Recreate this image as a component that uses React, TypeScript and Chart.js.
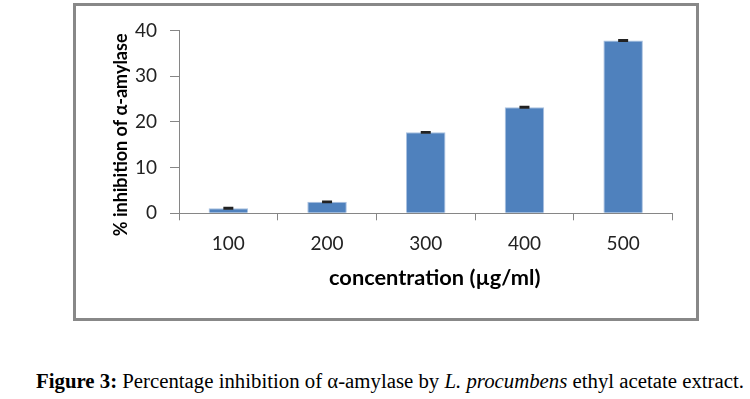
import React, { useEffect, useRef } from "react";
import { Chart, registerables } from "chart.js";

Chart.register(...registerables);

const categories = ["100", "200", "300", "400", "500"];
const inhibition = [1.1, 2.5, 17.7, 23.2, 37.8];
const errors = [0.15, 0.15, 0.15, 0.15, 0.15];
const yTicks = [0, 10, 20, 30, 40];
const xTitle = "concentration (µg/ml)";
const yTitle = "% inhibition of α-amylase";

const AXIS_COLOR = "#868686";
const FONT = "Lato";

const errorBarPlugin = {
  id: "errorBars",
  afterDatasetsDraw(chart: any) {
    const meta = chart.getDatasetMeta(0);
    const y = chart.scales.y;
    const ctx = chart.ctx;
    ctx.save();
    ctx.strokeStyle = "#222222";
    ctx.lineWidth = 1.5;
    meta.data.forEach((bar: any, i: number) => {
      const v = inhibition[i];
      const e = errors[i];
      const top = y.getPixelForValue(v + e);
      const bot = y.getPixelForValue(v - e);
      const x = bar.x;
      const hw = 5;
      ctx.beginPath();
      ctx.moveTo(x, top);
      ctx.lineTo(x, bot);
      ctx.moveTo(x - hw, top);
      ctx.lineTo(x + hw, top);
      ctx.moveTo(x - hw, bot);
      ctx.lineTo(x + hw, bot);
      ctx.stroke();
    });
    ctx.restore();
  },
};

const axisTitlePlugin = {
  id: "axisTitles",
  afterDraw(chart: any) {
    const { ctx, chartArea } = chart;
    ctx.save();
    ctx.fillStyle = "#000000";
    ctx.textAlign = "center";
    ctx.textBaseline = "middle";
    ctx.font = `bold 21.8px ${FONT}`;
    ctx.fillText(
      xTitle,
      (chartArea.left + chartArea.right) / 2 + 9,
      chartArea.bottom + 65
    );
    ctx.font = `bold 18px ${FONT}`;
    ctx.translate(chartArea.left - 58, (chartArea.top + chartArea.bottom) / 2 + 13);
    ctx.rotate(-Math.PI / 2);
    ctx.fillText(yTitle, 0, 0);
    ctx.restore();
  },
};

function BarChart() {
  const ref = useRef<HTMLCanvasElement | null>(null);
  useEffect(() => {
    if (!ref.current) return;
    const chart = new Chart(ref.current, {
      type: "bar",
      data: {
        labels: categories,
        datasets: [
          {
            data: inhibition,
            backgroundColor: "#4f81bd",
            borderColor: "#a9c1e0",
            borderWidth: 1,
            barPercentage: 0.4,
            categoryPercentage: 1,
          },
        ],
      },
      options: {
        responsive: false,
        animation: false,
        layout: { padding: { left: 0, right: 23.5, top: 24, bottom: 0 } },
        plugins: {
          legend: { display: false },
          tooltip: { enabled: false },
          title: { display: false },
        },
        scales: {
          x: {
            offset: true,
            grid: {
              display: true,
              offset: true,
              drawOnChartArea: false,
              drawTicks: true,
              tickLength: 7,
              color: AXIS_COLOR,
            },
            border: { display: true, color: AXIS_COLOR },
            ticks: {
              color: "#222222",
              padding: 12,
              font: { family: FONT, size: 19 },
            },
            afterFit: (s: any) => {
              s.height = 104.7;
            },
          },
          y: {
            min: 0,
            max: 40,
            afterBuildTicks: (s: any) => {
              s.ticks = yTicks.map((v) => ({ value: v }));
            },
            grid: {
              display: true,
              drawOnChartArea: false,
              drawTicks: true,
              tickLength: 9,
              color: AXIS_COLOR,
            },
            border: { display: true, color: AXIS_COLOR },
            ticks: {
              color: "#222222",
              padding: 13,
              font: { family: FONT, size: 19 },
            },
            afterFit: (s: any) => {
              s.width = 103;
            },
          },
        },
      },
      plugins: [errorBarPlugin, axisTitlePlugin],
    });
    return () => chart.destroy();
  }, []);
  return (
    <canvas
      ref={ref}
      width={620}
      height={312}
      style={{ display: "block", width: 620, height: 312 }}
    />
  );
}

export default function App() {
  return (
    <div
      style={{
        position: "absolute",
        left: 0,
        top: 0,
        width: 750,
        height: 399,
        background: "#ffffff",
        overflow: "hidden",
      }}
    >
      <div
        style={{
          position: "absolute",
          left: 73,
          top: 3,
          width: 626,
          height: 318,
          boxSizing: "border-box",
          border: "3px solid #888888",
          background: "#ffffff",
        }}
      >
        <BarChart />
      </div>
      <div
        style={{
          position: "absolute",
          left: 36,
          top: 369,
          fontFamily: "'Liberation Serif', 'Times New Roman', serif",
          fontSize: 20.8,
          lineHeight: "24px",
          color: "#000000",
          whiteSpace: "nowrap",
        }}
      >
        <b>Figure 3:</b> Percentage inhibition of α-amylase by <i>L. procumbens</i> ethyl acetate
        extract.
      </div>
    </div>
  );
}
